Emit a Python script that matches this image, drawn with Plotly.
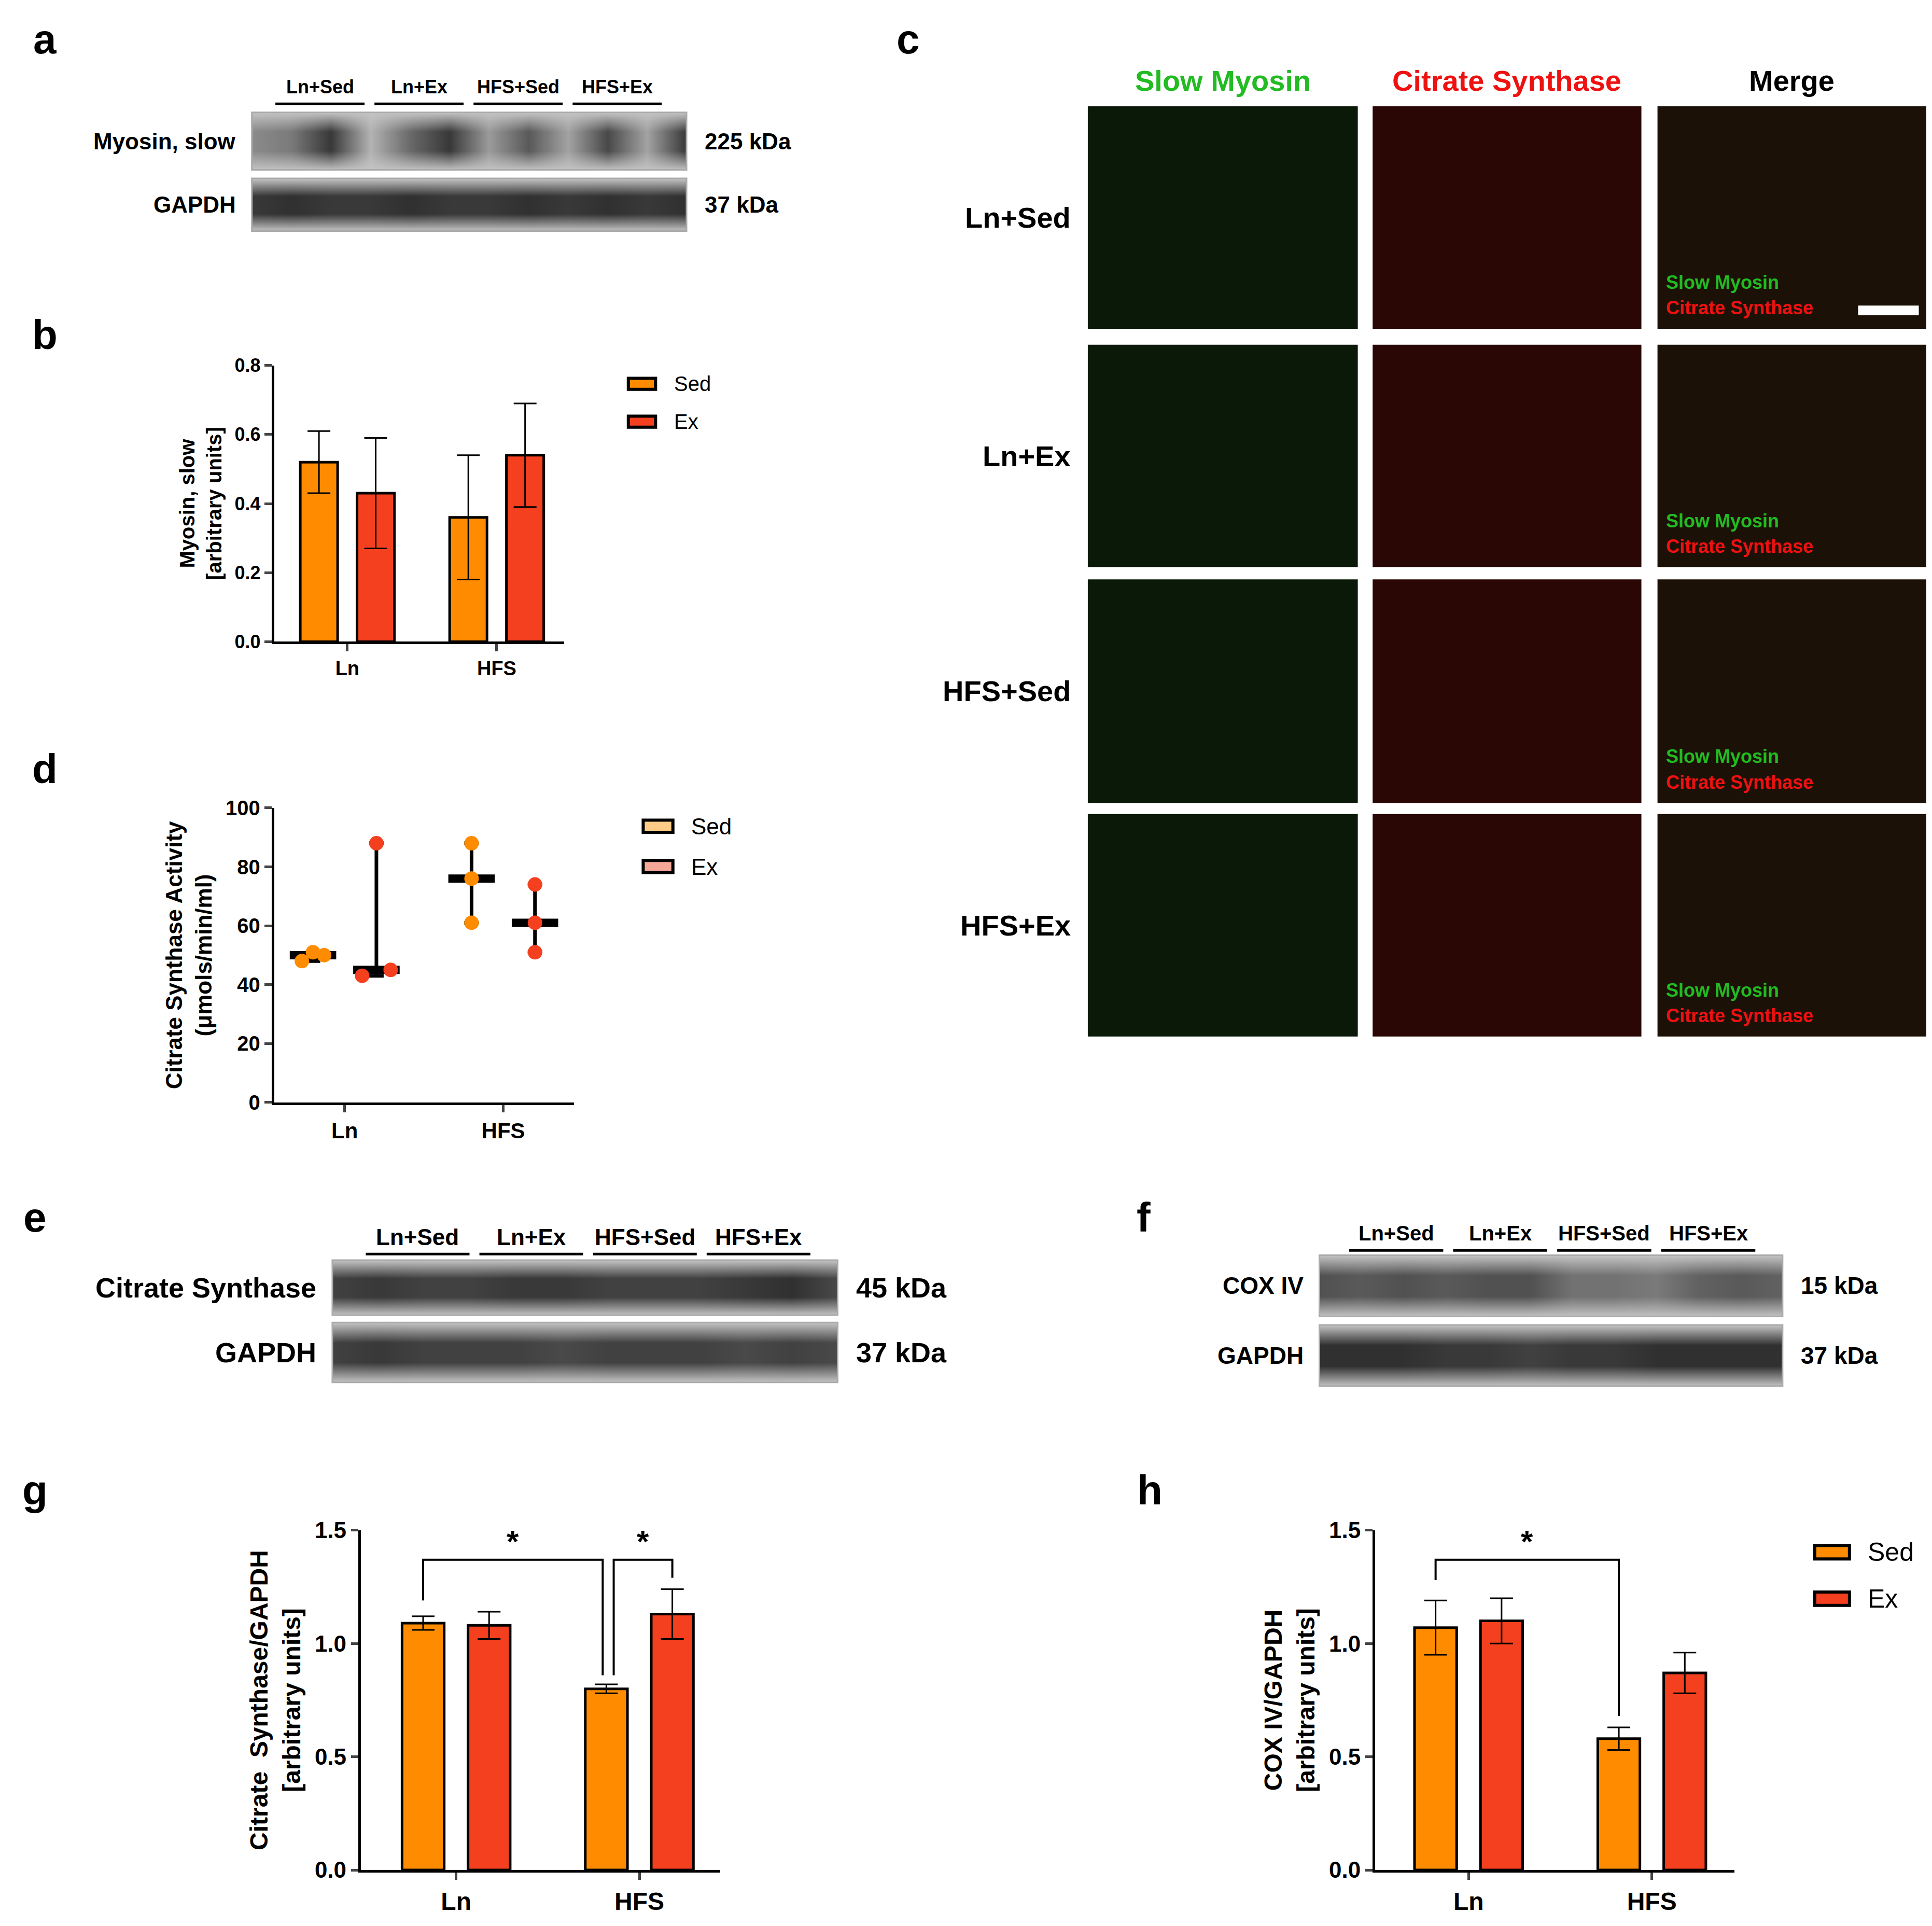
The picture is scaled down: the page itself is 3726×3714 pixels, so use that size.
import plotly.graph_objects as go

# ---------------- data ----------------
groups = ['Ln', 'HFS']
myosin_sed = [0.52, 0.36]
myosin_sed_err = [0.09, 0.18]
myosin_ex = [0.43, 0.54]
myosin_ex_err = [0.16, 0.15]

cs_act_ln_sed = [48, 51, 50]
cs_act_ln_ex = [43, 88, 45]
cs_act_hfs_sed = [61, 76, 88]
cs_act_hfs_ex = [51, 61, 74]

cs_sed = [1.09, 0.80]
cs_sed_err = [0.03, 0.02]
cs_ex = [1.08, 1.13]
cs_ex_err = [0.06, 0.11]

cox_sed = [1.07, 0.58]
cox_sed_err = [0.12, 0.05]
cox_ex = [1.10, 0.87]
cox_ex_err = [0.10, 0.09]

lane_groups = ['Ln+Sed', 'Ln+Ex', 'HFS+Sed', 'HFS+Ex']
blot_a_myosin = [0.35, 0.45, 0.85, 0.1, 0.55, 0.85, 0.25, 0.65, 0.2, 0.75, 0.2, 0.85]
blot_a_gapdh = [0.85, 0.9, 0.85, 0.85, 0.9, 0.85, 0.85, 0.9, 0.85, 0.9, 0.85, 0.9]
blot_e_cs = [0.8, 0.85, 0.8, 0.8, 0.85, 0.85, 0.8, 0.8, 0.8, 0.85, 0.9, 0.75]
blot_e_gapdh = [0.8, 0.85, 0.8, 0.8, 0.8, 0.75, 0.8, 0.8, 0.8, 0.75, 0.8, 0.75]
blot_f_cox = [0.7, 0.65, 0.7, 0.65, 0.7, 0.7, 0.5, 0.5, 0.45, 0.6, 0.65, 0.6]
blot_f_gapdh = [0.9, 0.9, 0.9, 0.85, 0.85, 0.8, 0.85, 0.85, 0.9, 0.9, 0.9, 0.9]

SED = '#FF8C00'
EX = '#F4401F'
SED_L = '#FFCC88'
EX_L = '#F6A898'
FONT = 'Liberation Sans'

W, H = 1560.0, 1555.0


def fx(x):
    return x / W


def fy(y):
    return 1 - y / H


fig = go.Figure()
layout = dict(width=3726, height=3714, paper_bgcolor='white', plot_bgcolor='white',
              margin=dict(l=0, r=0, t=0, b=0), showlegend=False,
              font=dict(family=FONT, color='black'))
ann = []
shapes = []


def text(x, y, s, size, color='black', anchor='center', bold=True):
    ann.append(dict(x=fx(x), y=fy(y), xref='paper', yref='paper', text='<b>%s</b>' % s if bold else s,
                    xanchor=anchor, yanchor='middle', showarrow=False, font=dict(size=size, color=color)))


def axis_pair(n, x0, x1, y0, y1, xr, yr, ytick, ysize, ytitle=None, xsize=38):
    xa = dict(domain=[fx(x0), fx(x1)], range=xr, anchor='y%d' % n, showgrid=False, zeroline=False,
              showline=True, linecolor='black', linewidth=5, ticks='outside', ticklen=14, tickwidth=5,
              tickvals=[0, 1], ticktext=groups, tickfont=dict(size=xsize, family=FONT, weight='bold'))
    ya = dict(domain=[fy(y1), fy(y0)], range=yr, anchor='x%d' % n, showgrid=False, zeroline=False,
              showline=True, linecolor='black', linewidth=5, ticks='outside', ticklen=14, tickwidth=5,
              tickvals=ytick, tickfont=dict(size=ysize, family=FONT, weight='bold'))
    if ytitle:
        ya['title'] = dict(text=ytitle, font=dict(size=ysize + 4, family=FONT, weight='bold'), standoff=14)
    layout['xaxis%d' % n if n > 1 else 'xaxis'] = xa
    layout['yaxis%d' % n if n > 1 else 'yaxis'] = ya


def bars(n, sed, sed_e, ex, ex_e, off, width):
    for vals, errs, col, name, sgn in [(sed, sed_e, SED, 'Sed', -1), (ex, ex_e, EX, 'Ex', 1)]:
        fig.add_trace(go.Bar(x=[i + sgn * off for i in range(2)], y=vals, width=width,
                             marker=dict(color=col, line=dict(color='black', width=5)),
                             error_y=dict(type='data', array=errs, color='black', thickness=3, width=22),
                             name=name, xaxis='x%d' % n, yaxis='y%d' % n))


def legend_box(x, y, gap, cols, size, bw, bh):
    for i, (name, col) in enumerate(cols):
        yy = y + i * gap
        shapes.append(dict(type='rect', xref='paper', yref='paper', x0=fx(x), x1=fx(x + bw),
                           y0=fy(yy + bh / 2), y1=fy(yy - bh / 2), fillcolor=col,
                           line=dict(color='black', width=6)))
        text(x + bw + 14, yy, name, size, anchor='left', bold=False)


# ---- panel b ----
axis_pair(1, 218, 452, 285, 511, [-0.49, 1.45], [0, 0.8], [0, 0.2, 0.4, 0.6, 0.8], 36,
          'Myosin, slow<br>[arbitrary units]', 38)
layout['yaxis']['tickformat'] = '.1f'
bars(1, myosin_sed, myosin_sed_err, myosin_ex, myosin_ex_err, 0.19, 0.25)
legend_box(504, 300, 31, [('Sed', SED), ('Ex', EX)], 40, 22, 9)

# ---- panel d ----
axis_pair(2, 218, 460, 647, 888, [-0.445, 1.445], [0, 100], [0, 20, 40, 60, 80, 100], 40,
          'Citrate Synthase Activity<br>(μmols/min/ml)', 42)
dsets = [(cs_act_ln_sed, -0.2, SED, [-0.07, 0.0, 0.07]), (cs_act_ln_ex, 0.2, EX, [-0.09, 0.0, 0.09]),
         (cs_act_hfs_sed, 0.8, SED, [0, 0, 0]), (cs_act_hfs_ex, 1.2, EX, [0, 0, 0])]
for vals, xp, col, jit in dsets:
    s = sorted(vals)
    med = s[1]
    fig.add_trace(go.Scatter(x=[xp], y=[med], mode='markers',
                             marker=dict(symbol='line-ew', size=64, line=dict(width=16, color='black')),
                             error_y=dict(type='data', symmetric=False, array=[s[2] - med], arrayminus=[med - s[0]],
                                          color='black', thickness=7, width=14),
                             xaxis='x2', yaxis='y2'))
    fig.add_trace(go.Scatter(x=[xp + j for j in jit], y=vals, mode='markers',
                             marker=dict(size=28, color=col), xaxis='x2', yaxis='y2'))
legend_box(516, 662, 33, [('Sed', SED_L), ('Ex', EX_L)], 44, 24, 10)

# ---- panel g ----
axis_pair(3, 288, 578, 1238, 1516, [-0.52, 1.44], [0, 1.5], [0, 0.5, 1.0, 1.5], 44,
          'Citrate  Synthase/GAPDH<br>[arbitrary units]', 48)
layout['yaxis3']['tickformat'] = '.1f'
bars(3, cs_sed, cs_sed_err, cs_ex, cs_ex_err, 0.18, 0.23)

# ---- panel h ----
axis_pair(4, 1107, 1397, 1238, 1516, [-0.51, 1.45], [0, 1.5], [0, 0.5, 1.0, 1.5], 44,
          'COX IV/GAPDH<br>[arbitrary units]', 48)
layout['yaxis4']['tickformat'] = '.1f'
bars(4, cox_sed, cox_sed_err, cox_ex, cox_ex_err, 0.18, 0.23)
legend_box(1462, 1256, 38, [('Sed', SED), ('Ex', EX)], 50, 28, 11)

# significance brackets
for n, xl, xr_, yl, yr_, top in [(3, -0.18, 0.80, 1.19, 0.86, 1.37), (3, 0.86, 1.18, 0.86, 1.29, 1.37),
                                 (4, -0.18, 0.82, 1.28, 0.68, 1.37)]:
    fig.add_trace(go.Scatter(x=[xl, xl, xr_, xr_], y=[yl, top, top, yr_], mode='lines',
                             line=dict(color='black', width=4), xaxis='x%d' % n, yaxis='y%d' % n))
    ann.append(dict(x=(xl + xr_) / 2, y=top, xref='x%d' % n, yref='y%d' % n, text='<b>*</b>',
                    showarrow=False, xanchor='center', yanchor='bottom', font=dict(size=60)))

# ---- western blots as heatmaps ----
blots = [
    (5, 200, 551, 78, 125, blot_a_myosin, 'Myosin, slow', '225 kDa', 44),
    (6, 200, 551, 132, 175, blot_a_gapdh, 'GAPDH', '37 kDa', 44),
    (7, 265, 673, 1017, 1062, blot_e_cs, 'Citrate Synthase', '45 kDa', 54),
    (8, 265, 673, 1068, 1117, blot_e_gapdh, 'GAPDH', '37 kDa', 54),
    (9, 1062, 1436, 1013, 1063, blot_f_cox, 'COX IV', '15 kDa', 46),
    (10, 1062, 1436, 1070, 1120, blot_f_gapdh, 'GAPDH', '37 kDa', 46),
]
for n, x0, x1, y0, y1, vals, lab, kda, fs in blots:
    z = [[0.0] * len(vals), vals, vals, [0.0] * len(vals)]
    fig.add_trace(go.Heatmap(z=z, x=list(range(len(vals))), y=[0, 1, 2, 3], zmin=0, zmax=1, showscale=False,
                             zsmooth='best', colorscale=[[0, '#c4c4c4'], [1, '#202020']],
                             xaxis='x%d' % n, yaxis='y%d' % n, hoverinfo='skip'))
    layout['xaxis%d' % n] = dict(domain=[fx(x0), fx(x1)], range=[0, len(vals) - 1], visible=False,
                                 anchor='y%d' % n)
    layout['yaxis%d' % n] = dict(domain=[fy(y1), fy(y0)], range=[0, 3], visible=False, anchor='x%d' % n)
    shapes.append(dict(type='rect', xref='paper', yref='paper', x0=fx(x0), x1=fx(x1), y0=fy(y1), y1=fy(y0),
                       line=dict(color='#aaaaaa', width=3)))
    text(x0 - 12, (y0 + y1) / 2, lab, fs, anchor='right')
    text(x1 + 14, (y0 + y1) / 2, kda, fs, anchor='left')

# lane group labels
for x0, x1, ylab, fs in [(215, 535, 57, 36), (288, 655, 998, 44), (1082, 1418, 995, 40)]:
    step = (x1 - x0) / 4.0
    for i, g in enumerate(lane_groups):
        a, b = x0 + i * step + 4, x0 + (i + 1) * step - 4
        text((a + b) / 2, ylab, g, fs)
        shapes.append(dict(type='line', xref='paper', yref='paper', x0=fx(a), x1=fx(b),
                           y0=fy(ylab + 14), y1=fy(ylab + 14), line=dict(color='black', width=5)))

# ---- panel c: fluorescence micrograph tiles ----
cols = [(875, 1093, 'Slow Myosin', '#22bb22', '#0b1a08'),
        (1105, 1322, 'Citrate Synthase', '#ee1111', '#2a0704'),
        (1335, 1552, 'Merge', 'black', '#1c1106')]
rows = [(73, 255, 'Ln+Sed'), (268, 450, 'Ln+Ex'), (460, 643, 'HFS+Sed'), (652, 834, 'HFS+Ex')]
for x0, x1, title, tc, fill in cols:
    text((x0 + x1) / 2, 52, title, 56, color=tc)
    for y0, y1, rl in rows:
        shapes.append(dict(type='rect', xref='paper', yref='paper', x0=fx(x0), x1=fx(x1), y0=fy(y1), y1=fy(y0),
                           fillcolor=fill, line=dict(width=0), layer='below'))
for y0, y1, rl in rows:
    text(862, (y0 + y1) / 2, rl, 56, anchor='right')
    text(1341, y1 - 38, 'Slow Myosin', 36, color='#22bb22', anchor='left')
    text(1341, y1 - 17, 'Citrate Synthase', 36, color='#ee1111', anchor='left')
shapes.append(dict(type='rect', xref='paper', yref='paper', x0=fx(1497), x1=fx(1546), y0=fy(244), y1=fy(236),
                   fillcolor='white', line=dict(width=0)))

# panel letters
for letter, x, y in [('a', 33, 18), ('b', 33, 260), ('c', 730, 18), ('d', 33, 615), ('e', 25, 982),
                     ('f', 920, 982), ('g', 25, 1205), ('h', 925, 1205)]:
    text(x, y, letter, 80)

layout['annotations'] = ann
layout['shapes'] = shapes
layout['barmode'] = 'overlay'
fig.update_layout(**layout)
fig.write_html('out.html')
